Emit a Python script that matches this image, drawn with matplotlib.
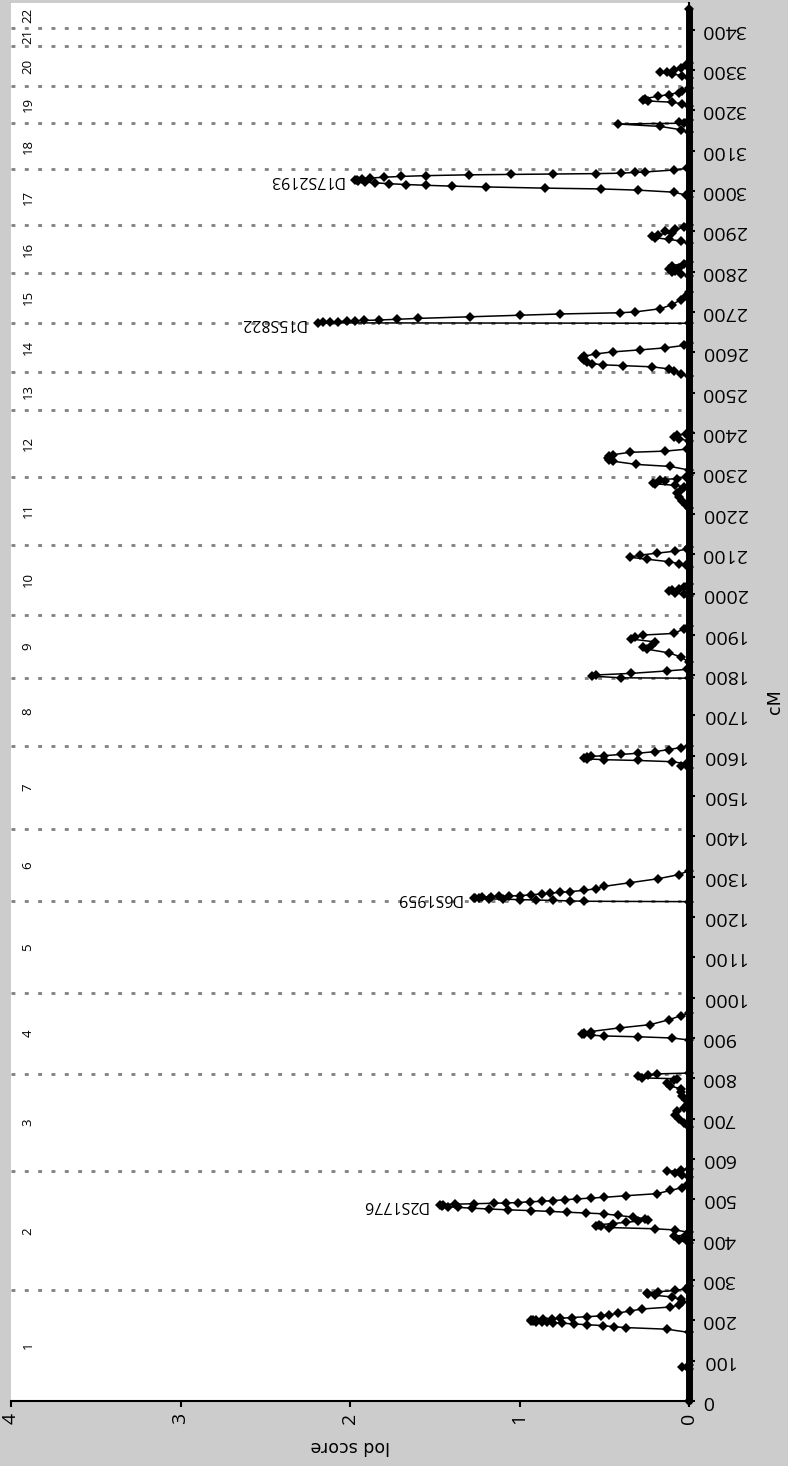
import matplotlib
matplotlib.use("Agg")
import matplotlib.pyplot as plt

# ---------------- genome layout (cumulative cM) ----------------
chrom_labels = ["1", "2", "3", "4", "5", "6", "7", "8", "9", "10", "11",
                "12", "13", "14", "15", "16", "17", "18", "19", "20", "21", "22"]
chrom_breaks = [274, 569, 811, 1011, 1239, 1417, 1625, 1793, 1949, 2122, 2292,
                2457, 2550, 2673, 2797, 2915, 3054, 3168, 3259, 3360, 3405]
map_end = 3452
cm_limit = 3466
lod_limit = 4
cm_ticks = [0, 100, 200, 300, 400, 500, 600, 700, 800, 900, 1000, 1100, 1200,
            1300, 1400, 1500, 1600, 1700, 1800, 1900, 2000, 2100, 2200, 2300,
            2400, 2500, 2600, 2700, 2800, 2900, 3000, 3100, 3200, 3300, 3400]
lod_ticks = [0, 1, 2, 3, 4]

# ---------------- multipoint LOD scores (cM, LOD) ----------------
chr1 = [(80, 0.0), (85, 0.04), (90, 0.0),
        (170, 0.0), (178, 0.13), (182, 0.37), (184, 0.44), (187, 0.51), (189, 0.60),
        (191, 0.68), (193, 0.75), (194, 0.80), (195, 0.84), (196, 0.87), (197, 0.90),
        (198, 0.92), (199, 0.93), (200, 0.93), (201, 0.92), (202, 0.90), (203, 0.86),
        (204, 0.81), (205, 0.76), (207, 0.69), (209, 0.60), (211, 0.52), (213, 0.47),
        (218, 0.42), (223, 0.35), (228, 0.28), (233, 0.11), (238, 0.06), (245, 0.04),
        (252, 0.05), (258, 0.10), (262, 0.20), (265, 0.24), (268, 0.25), (271, 0.18),
        (274, 0.08)]
chr2 = [(278, 0.02), (284, 0.0), (392, 0.0), (398, 0.06), (403, 0.03), (408, 0.09),
        (412, 0.02), (418, 0.0), (424, 0.08), (427, 0.20), (430, 0.47), (433, 0.52),
        (435, 0.55), (437, 0.53), (440, 0.45), (443, 0.37), (446, 0.30), (449, 0.24),
        (452, 0.26), (456, 0.33), (460, 0.42), (464, 0.50), (466, 0.61), (468, 0.72),
        (470, 0.82), (472, 0.93), (474, 1.07), (476, 1.18), (478, 1.28), (480, 1.36),
        (482, 1.42), (484, 1.46), (486, 1.47), (487, 1.45), (488, 1.38), (489, 1.27),
        (490, 1.15), (491, 1.08), (492, 1.01), (494, 0.94), (495, 0.87), (497, 0.80),
        (499, 0.73), (501, 0.66), (503, 0.58), (505, 0.50), (509, 0.37), (514, 0.19),
        (522, 0.11), (529, 0.04), (536, 0.01), (555, 0.0), (560, 0.04), (565, 0.08),
        (569, 0.13)]
chr3 = [(572, 0.05), (576, 0.0), (680, 0.0), (690, 0.03), (700, 0.06), (710, 0.08),
        (718, 0.07), (726, 0.03), (735, 0.01), (746, 0.02), (757, 0.04), (766, 0.05),
        (774, 0.05), (781, 0.11), (789, 0.13), (795, 0.09), (799, 0.07), (801, 0.28),
        (805, 0.30), (808, 0.24), (811, 0.19)]
chr4 = [(813, 0.0), (895, 0.0), (900, 0.10), (903, 0.30), (905, 0.50), (907, 0.58),
        (909, 0.62), (911, 0.63), (913, 0.62), (916, 0.58), (925, 0.41), (933, 0.23),
        (945, 0.12), (955, 0.05), (962, 0.0)]
chr6 = [(1238, 0.0), (1239, 0.62), (1240, 0.70), (1241, 0.80), (1242, 0.90),
        (1243, 1.00), (1244, 1.10), (1245, 1.18), (1246, 1.24), (1247, 1.27),
        (1248, 1.26), (1249, 1.22), (1250, 1.17), (1251, 1.12), (1252, 1.06),
        (1253, 1.00), (1255, 0.93), (1257, 0.87), (1259, 0.82), (1261, 0.76),
        (1263, 0.70), (1266, 0.62), (1270, 0.55), (1276, 0.50), (1285, 0.35),
        (1295, 0.18), (1305, 0.06), (1315, 0.0)]
chr7 = [(1570, 0.0), (1575, 0.05), (1580, 0.02), (1585, 0.10), (1588, 0.30),
        (1590, 0.50), (1592, 0.60), (1594, 0.62), (1596, 0.60), (1598, 0.58),
        (1600, 0.50), (1603, 0.40), (1606, 0.30), (1610, 0.20), (1615, 0.12),
        (1620, 0.05), (1625, 0.0)]
chr9 = [(1792, 0.0), (1793, 0.40), (1797, 0.57), (1800, 0.55), (1804, 0.34),
        (1810, 0.13), (1814, 0.01), (1832, 0.0), (1845, 0.05), (1855, 0.12),
        (1864, 0.25), (1869, 0.27), (1874, 0.22), (1882, 0.20), (1889, 0.34),
        (1894, 0.32), (1899, 0.27), (1903, 0.09), (1914, 0.03), (1922, 0.0)]
chr10 = [(1995, 0.0), (2000, 0.03), (2004, 0.08), (2007, 0.12), (2010, 0.10),
         (2014, 0.06), (2019, 0.03), (2025, 0.0), (2068, 0.0), (2072, 0.02),
         (2076, 0.06), (2081, 0.12), (2087, 0.25), (2092, 0.35), (2097, 0.29),
         (2102, 0.19), (2107, 0.08), (2112, 0.01), (2118, 0.0)]
chr11 = [(2215, 0.0), (2222, 0.02), (2232, 0.04), (2242, 0.06), (2250, 0.07),
         (2258, 0.05), (2266, 0.03), (2270, 0.08), (2274, 0.20), (2277, 0.21),
         (2280, 0.14), (2284, 0.17), (2287, 0.07), (2291, 0.02)]
chr12 = [(2296, 0.0), (2308, 0.0), (2317, 0.11), (2322, 0.31), (2330, 0.45),
         (2334, 0.47), (2338, 0.48), (2342, 0.47), (2346, 0.45), (2352, 0.35),
         (2355, 0.14), (2360, 0.01), (2380, 0.0), (2386, 0.06), (2390, 0.09),
         (2394, 0.07), (2398, 0.02), (2402, 0.0)]
chr14 = [(2540, 0.0), (2547, 0.05), (2554, 0.09), (2559, 0.12), (2564, 0.22),
         (2567, 0.39), (2569, 0.51), (2572, 0.57), (2575, 0.60), (2580, 0.62),
         (2585, 0.63), (2590, 0.62), (2596, 0.55), (2601, 0.45), (2606, 0.29),
         (2611, 0.14), (2617, 0.03), (2622, 0.0), (2672, 0.0)]
chr15 = [(2673, 2.19), (2674, 2.16), (2675, 2.12), (2676, 2.07), (2677, 2.02),
         (2678, 1.97), (2679, 1.92), (2680, 1.83), (2682, 1.72), (2684, 1.60),
         (2688, 1.29), (2692, 1.00), (2695, 0.76), (2698, 0.41), (2700, 0.32),
         (2708, 0.17), (2718, 0.10), (2730, 0.05), (2740, 0.02), (2750, 0.0),
         (2790, 0.0), (2795, 0.05)]
chr16 = [(2798, 0.10), (2802, 0.08), (2806, 0.12), (2810, 0.06), (2815, 0.10),
         (2820, 0.03), (2825, 0.0), (2870, 0.0), (2876, 0.05), (2880, 0.12),
         (2884, 0.20), (2888, 0.22), (2892, 0.18), (2896, 0.10), (2900, 0.14),
         (2905, 0.08), (2910, 0.03), (2915, 0.0)]
chr17 = [(2985, 0.0), (2990, 0.02), (2997, 0.09), (3002, 0.30), (3005, 0.52),
         (3007, 0.85), (3010, 1.20), (3012, 1.40), (3014, 1.55), (3016, 1.67),
         (3018, 1.77), (3020, 1.85), (3022, 1.91), (3024, 1.95), (3026, 1.97),
         (3028, 1.96), (3030, 1.93), (3032, 1.88), (3034, 1.80), (3036, 1.70),
         (3038, 1.55), (3040, 1.30), (3041, 1.05), (3042, 0.80), (3043, 0.55),
         (3044, 0.40), (3046, 0.32), (3047, 0.26), (3052, 0.09), (3056, 0.01)]
chr18 = [(3145, 0.0), (3152, 0.05), (3160, 0.17), (3166, 0.42), (3168, 0.03)]
chr19 = [(3172, 0.06), (3176, 0.0), (3210, 0.0), (3216, 0.04), (3220, 0.10),
         (3223, 0.24), (3226, 0.27), (3229, 0.26), (3235, 0.18), (3239, 0.12),
         (3244, 0.06), (3248, 0.04), (3255, 0.0)]
chr20 = [(3280, 0.0), (3286, 0.04), (3290, 0.10), (3294, 0.17), (3296, 0.13),
         (3300, 0.09), (3306, 0.05), (3312, 0.02), (3318, 0.0)]

# peak markers named on the plot
marker_names = ["D2S1776", "D6S1959", "D15S822", "D17S2193"]
marker_regions = [chr2, chr6, chr15, chr17]

# ---------------- assemble the scan ----------------
regions = [chr1, chr2, chr3, chr4, chr6, chr7, chr9, chr10, chr11, chr12,
           chr14, chr15, chr16, chr17, chr18, chr19, chr20]
points = [(0, 0.0)] + [p for r in regions for p in r] + [(map_end, 0.0)]
scan_cm = [p[0] for p in points]
scan_lod = [p[1] for p in points]

# ---------------- figure ----------------
W, H = 788, 1466
fig = plt.figure(figsize=(W / 100, H / 100), dpi=100, facecolor="#cccccc")
ax = fig.add_axes([11 / W, 65 / H, (689 - 11) / W, (1401 - 3) / H])
ax.set_facecolor("white")

ax.set_xlim(lod_limit, 0)
ax.set_ylim(0, cm_limit)

# chromosome boundaries
for b in chrom_breaks:
    ax.plot([lod_limit, 0.05], [b, b], color="#808080", lw=2.0,
            linestyle=(0, (1.4, 3.4)), solid_capstyle="butt", zorder=1)

# chromosome numbers centred in their bands
edges = [0] + chrom_breaks + [cm_limit]
for i, name in enumerate(chrom_labels):
    mid = (edges[i] + edges[i + 1]) / 2
    ax.text(3.9, mid, name, rotation=90, ha="center", va="center",
            fontsize=9.5, family="Open Sans", color="black", zorder=3)

# dense marker track along zero
ax.plot([0, 0], [0, map_end], color="black", lw=5, solid_capstyle="round",
        clip_on=False, zorder=4)

# LOD scan
ax.plot(scan_lod, scan_cm, color="black", lw=1.1, marker="D", markersize=5,
        markeredgewidth=0, clip_on=False, zorder=5)

# peak marker labels
for name, reg in zip(marker_names, marker_regions):
    pc, pl = max(reg, key=lambda p: p[1])
    ax.text(pl + 0.07, pc, name, rotation=180, rotation_mode="anchor",
            ha="left", va="center", fontsize=11.5, family="Open Sans", zorder=6)

# axes styling
for s in ("left", "top"):
    ax.spines[s].set_visible(False)
ax.spines["bottom"].set_linewidth(1.5)
ax.spines["right"].set_linewidth(1.5)

ax.set_xticks(lod_ticks)
ax.set_xticklabels([str(t) for t in lod_ticks], rotation=90, fontsize=14,
                   family="Open Sans")
ax.tick_params(axis="x", direction="out", length=4.5, width=1.5, pad=4)

ax.yaxis.tick_right()
ax.set_yticks(cm_ticks)
ax.set_yticklabels([str(t) for t in cm_ticks], rotation=180, fontsize=14,
                   family="Open Sans", va="center")
ax.tick_params(axis="y", direction="out", length=4, width=1.5, pad=5)

ax.set_xlabel("lod score", rotation=180, fontsize=12.5, family="DejaVu Sans",
              labelpad=9)
ax.yaxis.set_label_position("right")
ax.set_ylabel("cM", rotation=90, fontsize=12.5, family="DejaVu Sans", labelpad=14)

fig.savefig("out.png", dpi=100, facecolor=fig.get_facecolor())
